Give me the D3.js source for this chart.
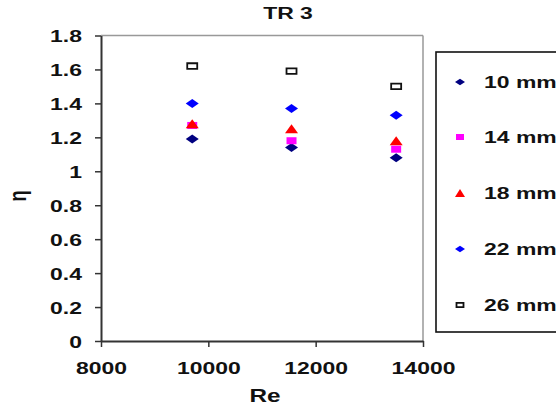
<!DOCTYPE html>
<html>
<head>
<meta charset="utf-8">
<script src="https://cdn.jsdelivr.net/npm/d3@7"></script>
<style>
  html, body { margin: 0; padding: 0; background: #fff; }
  svg { display: block; }
  text { font-family: "Liberation Sans", Arial, sans-serif; font-weight: bold; fill: #111; }
</style>
</head>
<body>
<svg id="chart" width="556" height="410"></svg>
<script>
// ---- data ----
const reValues = [9700, 11550, 13500];
const seriesNames = ["10 mm", "14 mm", "18 mm", "22 mm", "26 mm"];
const eta10 = [1.19, 1.14, 1.08];
const eta14 = [1.27, 1.18, 1.13];
const eta18 = [1.28, 1.25, 1.18];
const eta22 = [1.40, 1.37, 1.33];
const eta26 = [1.62, 1.59, 1.50];
const xTicks = [8000, 10000, 12000, 14000];
const yTicks = [0, 0.2, 0.4, 0.6, 0.8, 1, 1.2, 1.4, 1.6, 1.8];

const seriesValues = [eta10, eta14, eta18, eta22, eta26];
const seriesStyle = [
  { shape: "diamond",  fill: "#000080", stroke: "none" },
  { shape: "square",   fill: "#FF00FF", stroke: "none" },
  { shape: "triangle", fill: "#FF0000", stroke: "none" },
  { shape: "diamond",  fill: "#0000FF", stroke: "none" },
  { shape: "hollow",   fill: "#ffffff", stroke: "#111" }
];

const SX = 1.35; // horizontal stretch of the original picture
const FS = 17;
const svg = d3.select("#chart");

const x = d3.scaleLinear().domain([8000, 14000]).range([101, 423]);
const y = d3.scaleLinear().domain([0, 1.8]).range([341, 35.5]);

// plot area border (top/right gray)
svg.append("line").attr("x1", 101).attr("x2", 423).attr("y1", 35.5).attr("y2", 35.5)
  .attr("stroke", "#999").attr("stroke-width", 1.5);
svg.append("line").attr("x1", 423).attr("x2", 423).attr("y1", 35.5).attr("y2", 341)
  .attr("stroke", "#999").attr("stroke-width", 1.5);

// axes
const yAxis = svg.append("g").attr("transform", "translate(101,0)")
  .call(d3.axisLeft(y).tickValues(yTicks).tickSize(6).tickSizeOuter(0)
    .tickFormat(d => d3.format("")(+d.toFixed(1))));
const xAxis = svg.append("g").attr("transform", "translate(0,341)")
  .call(d3.axisBottom(x).tickValues(xTicks).tickSize(6).tickSizeOuter(0).tickFormat(d3.format("")));

[yAxis, xAxis].forEach(g => {
  g.select(".domain").attr("stroke", "#333").attr("stroke-width", 2);
  g.selectAll(".tick line").attr("stroke", "#333").attr("stroke-width", 1.5);
  g.selectAll("text").attr("font-size", FS).attr("fill", "#111")
    .attr("font-family", "Liberation Sans, Arial, sans-serif").attr("font-weight", "bold");
});
yAxis.selectAll(".tick text").attr("x", -19 / SX).attr("dy", "0.36em")
  .attr("transform", `scale(${SX},1)`);
xAxis.selectAll(".tick text").attr("y", 33).attr("dy", 0)
  .attr("transform", `scale(${SX},1)`);

// helper for stretched text
function stretchedText(txt, tx, ty, size, anchor) {
  const g = svg.append("g").attr("transform", `translate(${tx},${ty}) scale(${SX},1)`);
  g.append("text").attr("text-anchor", anchor).attr("font-size", size).text(txt);
  return g;
}

stretchedText("TR 3", 288, 19, FS, "middle");
stretchedText("Re", 265, 402, 18, "middle");
svg.append("g").attr("transform", "translate(26,196) rotate(-90) scale(1,1.3)")
  .append("text").attr("text-anchor", "middle").attr("font-size", 18).text("η");

// marker shapes (half width w, half height h)
function shapePath(shape, w, h) {
  if (shape === "diamond") return `M${-w},0L0,${-h}L${w},0L0,${h}Z`;
  if (shape === "triangle") return `M${-w},${h}L0,${-h}L${w},${h}Z`;
  return `M${-w},${-h}H${w}V${h}H${-w}Z`;
}
function marker(sel, st, w, h) {
  sel.append("path")
    .attr("d", shapePath(st.shape, w, h))
    .attr("fill", st.fill)
    .attr("stroke", st.stroke)
    .attr("stroke-width", st.stroke === "none" ? 0 : 1.8);
}
const plotSize = {
  diamond: [6.5, 4.5], square: [5, 3.5], triangle: [6.5, 4.5], hollow: [5, 2.8]
};
const legendSize = {
  diamond: [5, 3.2], square: [4, 3], triangle: [5, 4], hollow: [3.5, 2.2]
};

const plot = svg.append("g");
seriesValues.forEach((vals, si) => {
  const st = seriesStyle[si];
  vals.forEach((v, i) => {
    const g = plot.append("g").attr("transform", `translate(${x(reValues[i])},${y(v)})`);
    const [w, h] = plotSize[st.shape];
    marker(g, st, w, h);
  });
});

// legend
svg.append("rect").attr("x", 436).attr("y", 52).attr("width", 140).attr("height", 280)
  .attr("fill", "#fff").attr("stroke", "#111").attr("stroke-width", 1.6);
const legendY = [82, 137, 193, 249, 305];
seriesNames.forEach((name, si) => {
  const st = seriesStyle[si];
  const g = svg.append("g").attr("transform", `translate(460,${legendY[si]})`);
  const [w, h] = legendSize[st.shape];
  marker(g, st, w, h);
  stretchedText(name, 484, legendY[si] + 6, FS, "start");
});
</script>
</body>
</html>
